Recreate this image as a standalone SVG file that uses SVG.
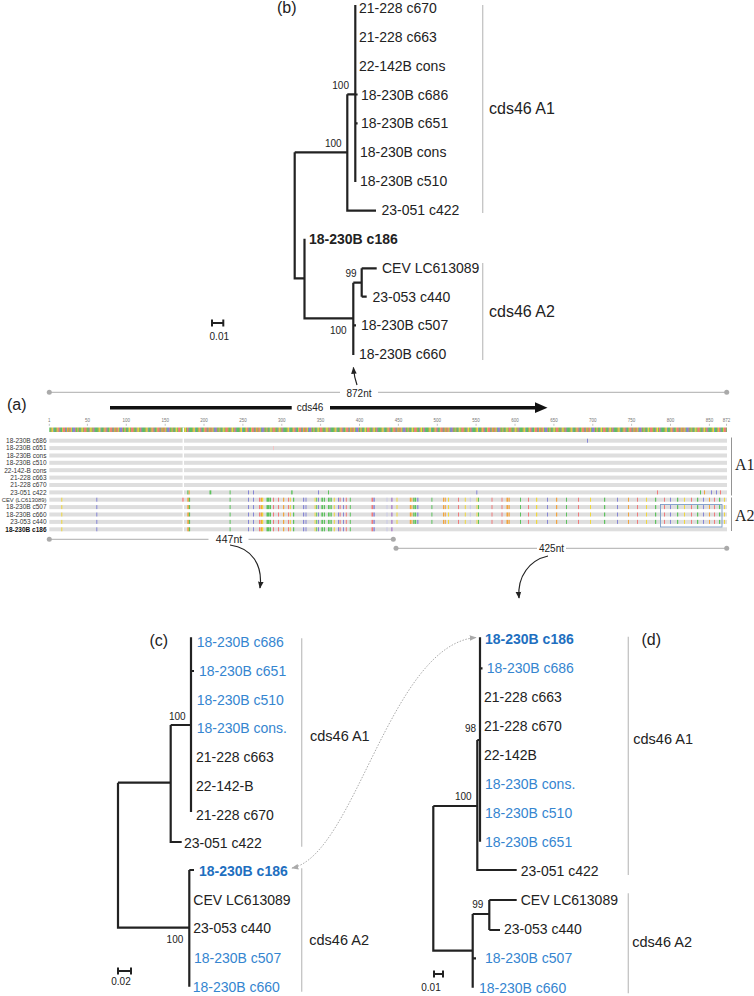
<svg xmlns="http://www.w3.org/2000/svg" width="754" height="996" viewBox="0 0 754 996">
<style>
text{font-family:"Liberation Sans",Arial,sans-serif;fill:#222}
.lbl{font-size:14px}
.blue{fill:#3585d0}
.bb{fill:#1e6fc0;font-weight:bold}
.bold{font-weight:bold}
.boot{font-size:10px}
.clade{font-size:14.5px}
.cladeb{font-size:16px}
.panel{font-size:16px}
.br{stroke:#222;stroke-width:2.2;fill:none}
.sb{stroke:#222;stroke-width:2;fill:none}
.brk{stroke:#c4c4c4;stroke-width:1.3;fill:none}
.dim{stroke:#bdbdbd;stroke-width:1.2;fill:none}
.dot{fill:#aaa}
.rl{font-size:6.5px;fill:#333;text-anchor:end}
.rul{font-size:4.5px;fill:#777;text-anchor:middle}
.bar{fill:#dedede}
.Y{fill:#f0d83a}.B{fill:#8585d6}.O{fill:#f2a43c}.G{fill:#5cc25c}.R{fill:#f07a7a}.L{fill:#c8c8e8}.P{fill:#9a5fc0}
.curve{stroke:#222;stroke-width:1.2;fill:none}
.dash{stroke:#aaa;stroke-width:1;fill:none;stroke-dasharray:1.5 1.5}
</style>
<defs>
<marker id="ah" viewBox="0 0 10 10" refX="9" refY="5" markerWidth="7" markerHeight="7" markerUnits="userSpaceOnUse" orient="auto"><path d="M0 1L10 5L0 9z" fill="#222"/></marker>
<marker id="ag" viewBox="0 0 10 10" refX="9" refY="5" markerWidth="7" markerHeight="7" markerUnits="userSpaceOnUse" orient="auto-start-reverse"><path d="M0 1L10 5L0 9z" fill="#aaa"/></marker>
<pattern id="cons" patternUnits="userSpaceOnUse" x="49.3" y="427.5" width="47.2" height="4.5">
<rect width="47.2" height="4.5" class="G"/>
<rect x="1.6" width="0.8" height="4.5" class="R"/><rect x="2.4" width="1.6" height="4.5" class="Y"/><rect x="4" width="0.8" height="4.5" class="B"/>
<rect x="7.2" width="0.8" height="4.5" class="R"/><rect x="8" width="0.8" height="4.5" class="Y"/><rect x="8.8" width="1.6" height="4.5" class="R"/><rect x="10.4" width="0.8" height="4.5" class="B"/>
<rect x="12.8" width="0.8" height="4.5" class="Y"/><rect x="13.6" width="2.4" height="4.5" class="R"/><rect x="16.8" width="0.8" height="4.5" class="B"/><rect x="17.6" width="1.6" height="4.5" class="O"/>
<rect x="20" width="1.6" height="4.5" class="R"/><rect x="21.6" width="0.8" height="4.5" class="Y"/><rect x="23.2" width="2.4" height="4.5" class="B"/><rect x="25.6" width="0.8" height="4.5" class="R"/>
<rect x="28" width="0.8" height="4.5" class="Y"/><rect x="28.8" width="0.8" height="4.5" class="R"/><rect x="31.2" width="0.8" height="4.5" class="B"/><rect x="32" width="1.6" height="4.5" class="Y"/>
<rect x="34.4" width="2.4" height="4.5" class="R"/><rect x="36.8" width="0.8" height="4.5" class="O"/><rect x="39.2" width="0.8" height="4.5" class="B"/><rect x="40" width="0.8" height="4.5" class="R"/>
<rect x="40.8" width="1.6" height="4.5" class="Y"/><rect x="43.2" width="1.6" height="4.5" class="R"/><rect x="44.8" width="0.8" height="4.5" class="B"/>
</pattern>
<g id="bar"><rect x="49.3" y="-2" width="133.3" height="4" class="bar"/><rect x="184" y="-2" width="543" height="4" class="bar"/></g>
<g id="a2left">
<rect x="61.3" y="-2" width="1" height="4" class="Y"/><rect x="96.3" y="-2" width="1" height="4" class="B"/>
<rect x="187.3" y="-2" width="1.6" height="4" class="O"/><rect x="188.9" y="-2" width="1.2" height="4" class="G"/>
<rect x="229.6" y="-2" width="1" height="4" class="G"/><rect x="248" y="-2" width="1" height="4" class="B"/><rect x="253" y="-2" width="1" height="4" class="B"/>
<rect x="259" y="-2" width="1" height="4" class="R"/><rect x="260.5" y="-2" width="1.5" height="4" class="O"/><rect x="262" y="-2" width="1.2" height="4" class="Y"/>
<rect x="266.5" y="-2" width="1.5" height="4" class="G"/><rect x="268" y="-2" width="1.6" height="4" class="G"/><rect x="270" y="-2" width="1" height="4" class="G"/>
<rect x="273" y="-2" width="1" height="4" class="R"/><rect x="278" y="-2" width="1" height="4" class="R"/><rect x="283" y="-2" width="1.2" height="4" class="O"/>
<rect x="288" y="-2" width="1" height="4" class="R"/><rect x="289.8" y="-2" width="1" height="4" class="Y"/><rect x="293" y="-2" width="1.2" height="4" class="G"/>
<rect x="303" y="-2" width="1.2" height="4" class="B"/><rect x="305.5" y="-2" width="1" height="4" class="B"/>
<rect x="314.6" y="-2" width="1" height="4" class="Y"/><rect x="316.2" y="-2" width="1" height="4" class="G"/><rect x="318" y="-2" width="1" height="4" class="B"/>
<rect x="321.4" y="-2" width="1.6" height="4" class="G"/><rect x="323.8" y="-2" width="1.2" height="4" class="G"/>
<rect x="328" y="-2" width="1.6" height="4" class="G"/><rect x="330.4" y="-2" width="1.4" height="4" class="G"/><rect x="333.8" y="-2" width="1" height="4" class="Y"/>
<rect x="338" y="-2" width="1" height="4" class="B"/><rect x="339.6" y="-2" width="1" height="4" class="R"/><rect x="343" y="-2" width="1" height="4" class="B"/>
<rect x="345.8" y="-2" width="1" height="4" class="R"/><rect x="349.8" y="-2" width="1" height="4" class="G"/>
<rect x="371.5" y="-2" width="1.6" height="4" class="R"/><rect x="373.4" y="-2" width="1.4" height="4" class="B"/>
<rect x="386.5" y="-2" width="1" height="4" class="L"/><rect x="391.4" y="-2" width="1" height="4" class="P"/>
</g>
<g id="a2right">
<rect x="396.5" y="-2" width="1" height="4" class="Y"/><rect x="409.8" y="-2" width="1.2" height="4" class="O"/><rect x="411.4" y="-2" width="1" height="4" class="O"/>
<rect x="413.2" y="-2" width="1.4" height="4" class="G"/><rect x="415" y="-2" width="1.2" height="4" class="G"/><rect x="417.2" y="-2" width="1.2" height="4" class="B"/>
<rect x="431.4" y="-2" width="1" height="4" class="G"/><rect x="443" y="-2" width="1.2" height="4" class="O"/><rect x="444.8" y="-2" width="1" height="4" class="O"/>
<rect x="448" y="-2" width="1" height="4" class="Y"/><rect x="458" y="-2" width="1" height="4" class="R"/><rect x="464.8" y="-2" width="1" height="4" class="Y"/>
<rect x="469.8" y="-2" width="1" height="4" class="L"/><rect x="476.5" y="-2" width="1" height="4" class="Y"/><rect x="478" y="-2" width="1" height="4" class="G"/>
<rect x="491.5" y="-2" width="1" height="4" class="R"/><rect x="501.5" y="-2" width="1" height="4" class="R"/><rect x="506.5" y="-2" width="1.5" height="4" class="O"/><rect x="508.5" y="-2" width="1.2" height="4" class="O"/>
<rect x="520" y="-2" width="1" height="4" class="G"/><rect x="528" y="-2" width="1" height="4" class="R"/><rect x="536" y="-2" width="1.2" height="4" class="Y"/>
<rect x="547" y="-2" width="1" height="4" class="B"/><rect x="556" y="-2" width="1.2" height="4" class="O"/><rect x="566" y="-2" width="1" height="4" class="G"/>
<rect x="578" y="-2" width="1" height="4" class="R"/><rect x="590" y="-2" width="1" height="4" class="Y"/><rect x="604" y="-2" width="1.2" height="4" class="G"/>
<rect x="617" y="-2" width="1" height="4" class="B"/><rect x="628" y="-2" width="1" height="4" class="O"/><rect x="637" y="-2" width="1" height="4" class="R"/>
<rect x="646" y="-2" width="1" height="4" class="Y"/><rect x="655" y="-2" width="1.2" height="4" class="G"/><rect x="664" y="-2" width="1" height="4" class="R"/>
<rect x="670" y="-2" width="1" height="4" class="B"/><rect x="677" y="-2" width="1.2" height="4" class="G"/><rect x="684" y="-2" width="1" height="4" class="Y"/>
<rect x="691" y="-2" width="1" height="4" class="R"/><rect x="697" y="-2" width="1.2" height="4" class="G"/><rect x="703" y="-2" width="1" height="4" class="B"/>
<rect x="709" y="-2" width="1" height="4" class="O"/><rect x="714" y="-2" width="1" height="4" class="R"/><rect x="719" y="-2" width="1.2" height="4" class="G"/><rect x="724" y="-2" width="1" height="4" class="Y"/>
</g>
</defs>
<rect width="754" height="996" fill="#fff"/>

<!-- ===== Panel (b) ===== -->
<g id="panel-b">
<text class="panel" x="277" y="13">(b)</text>
<g id="b-connectors">
<path class="br" d="M355.3 5V182M355.3 94.5H357.6M355.3 123.4H357.6"/>
<path class="br" d="M347.3 94.3H355.3M347.3 94.3V210.7H376"/>
<path class="br" d="M294.7 152.3H347.3M294.7 152.3V278.3H304.5"/>
<path class="br" d="M304.5 238.8V318.3H353.3"/>
<path class="br" d="M353.3 282.7V355M353.3 282.7H361.7M361.7 268.3V296.7M361.7 268.3H376.7M361.7 296.7H366.7M353.3 325.4H356"/>
</g>
<g id="b-boot">
<text class="boot" x="349" y="89" text-anchor="end">100</text>
<text class="boot" x="341.7" y="147" text-anchor="end">100</text>
<text class="boot" x="356.7" y="277" text-anchor="end">99</text>
<text class="boot" x="346.7" y="334" text-anchor="end">100</text>
</g>
<g id="b-l0"><text class="lbl" x="359" y="13">21-228 c670</text></g>
<g id="b-l1"><text class="lbl" x="359" y="42">21-228 c663</text></g>
<g id="b-l2"><text class="lbl" x="359" y="70.7">22-142B cons</text></g>
<g id="b-l3"><text class="lbl" x="361" y="99.5">18-230B c686</text></g>
<g id="b-l4"><text class="lbl" x="361" y="128.4">18-230B c651</text></g>
<g id="b-l5"><text class="lbl" x="360" y="157.2">18-230B cons</text></g>
<g id="b-l6"><text class="lbl" x="360" y="186">18-230B c510</text></g>
<g id="b-l7"><text class="lbl" x="381.5" y="215">23-051 c422</text></g>
<g id="b-l8"><text class="lbl bold" x="309" y="243.8">18-230B c186</text></g>
<g id="b-l9"><text class="lbl" x="382" y="272.6">CEV LC613089</text></g>
<g id="b-l10"><text class="lbl" x="372.5" y="301.5">23-053 c440</text></g>
<g id="b-l11"><text class="lbl" x="361" y="330.3">18-230B c507</text></g>
<g id="b-l12"><text class="lbl" x="359" y="359.2">18-230B c660</text></g>
<g id="b-scale">
<path class="sb" d="M212 323H223.3M212 319.5V326.5M223.3 319.5V326.5"/>
<text class="boot" x="219.3" y="339.5" text-anchor="middle">0.01</text>
</g>
<g id="b-clades">
<path class="brk" d="M482.7 5V213M482.7 263V360"/>
<text class="cladeb" x="489" y="113.5">cds46 A1</text>
<text class="cladeb" x="489" y="317">cds46 A2</text>
</g>
<path class="curve" d="M357 385Q354.2 377 353.4 367.5" marker-end="url(#ah)"/>
</g>

<!-- ===== Panel (a) ===== -->
<g id="panel-a">
<text class="panel" x="7" y="410">(a)</text>
<g id="dim-872">
<path class="dim" d="M49.3 392.3H340M378 392.3H726.7"/>
<circle class="dot" cx="49.3" cy="392.3" r="2.5"/><circle class="dot" cx="726.7" cy="392.3" r="2.5"/>
<text x="359" y="397" text-anchor="middle" style="font-size:10px">872nt</text>
</g>
<g id="cds46-arrow">
<path d="M110 407.7H291.7M330 407.7H536" stroke="#111" stroke-width="3.6" fill="none"/>
<path d="M535 402.3L547.5 407.7L535 413z" fill="#111"/>
<text x="310" y="411" text-anchor="middle" style="font-size:10px">cds46</text>
</g>
<g id="ruler">
<text class="rul" x="49.3" y="422">1</text><text class="rul" x="87.4" y="422">50</text><text class="rul" x="126.3" y="422">100</text>
<text class="rul" x="165.2" y="422">150</text><text class="rul" x="204" y="422">200</text><text class="rul" x="242.9" y="422">250</text>
<text class="rul" x="281.8" y="422">300</text><text class="rul" x="320.6" y="422">350</text><text class="rul" x="359.5" y="422">400</text>
<text class="rul" x="398.4" y="422">450</text><text class="rul" x="437.3" y="422">500</text><text class="rul" x="476.1" y="422">550</text>
<text class="rul" x="515" y="422">600</text><text class="rul" x="553.9" y="422">650</text><text class="rul" x="592.8" y="422">700</text>
<text class="rul" x="631.6" y="422">750</text><text class="rul" x="670.5" y="422">800</text><text class="rul" x="709.4" y="422">850</text>
<text class="rul" x="726.5" y="422">872</text>
<path stroke="#999" stroke-width="0.6" d="M49.3 423.8v2M87.4 423.8v2M126.3 423.8v2M165.2 423.8v2M204 423.8v2M242.9 423.8v2M281.8 423.8v2M320.6 423.8v2M359.5 423.8v2M398.4 423.8v2M437.3 423.8v2M476.1 423.8v2M515 423.8v2M553.9 423.8v2M592.8 423.8v2M631.6 423.8v2M670.5 423.8v2M709.4 423.8v2M726.5 423.8v2"/>
<rect x="49.3" y="427.5" width="677.7" height="4.5" fill="url(#cons)"/>
<rect x="182.6" y="427.5" width="1.4" height="4.5" fill="#fff"/>
</g>
<g id="rows">
<g id="row1"><text class="rl" x="46.5" y="443">18-230B c686</text><use href="#bar" y="440.7"/><rect x="587" y="438.7" width="1" height="4" class="B"/></g>
<g id="row2"><text class="rl" x="46.5" y="450.4">18-230B c651</text><use href="#bar" y="448.1"/><rect x="273" y="446.1" width="1" height="4" fill="#f5c4c4"/></g>
<g id="row3"><text class="rl" x="46.5" y="457.8">18-230B cons</text><use href="#bar" y="455.5"/></g>
<g id="row4"><text class="rl" x="46.5" y="465.1">18-230B c510</text><use href="#bar" y="462.8"/></g>
<g id="row5"><text class="rl" x="46.5" y="472.5">22-142-B cons</text><use href="#bar" y="470.2"/></g>
<g id="row6"><text class="rl" x="46.5" y="479.9">21-228 c663</text><use href="#bar" y="477.6"/></g>
<g id="row7"><text class="rl" x="46.5" y="487.3">21-228 c670</text><use href="#bar" y="485"/></g>
<g id="row8"><text class="rl" x="46.5" y="494.7">23-051 c422</text><use href="#bar" y="492.4"/>
<g transform="translate(0 492.4)">
<rect x="187.3" y="-2" width="1.2" height="4" class="G"/><rect x="188.7" y="-2" width="1" height="4" class="O"/><rect x="209.5" y="-2" width="1.8" height="4" class="G"/>
<rect x="229.6" y="-2" width="1" height="4" class="G"/><rect x="248" y="-2" width="1" height="4" class="B"/><rect x="253" y="-2" width="1" height="4" class="B"/>
<rect x="291.2" y="-2" width="1.4" height="4" class="G"/><rect x="318" y="-2" width="1" height="4" class="B"/><rect x="328" y="-2" width="1" height="4" class="G"/>
<rect x="476.3" y="-2" width="1" height="4" class="B"/><rect x="657" y="-2" width="1" height="4" class="R"/><rect x="700" y="-2" width="1" height="4" class="G"/>
<rect x="704" y="-2" width="1" height="4" class="O"/><rect x="711" y="-2" width="1" height="4" class="B"/><rect x="716" y="-2" width="1" height="4" class="B"/><rect x="720" y="-2" width="1" height="4" class="R"/>
</g></g>
<g id="row9"><text class="rl" x="46.5" y="502" style="font-size:5.9px">CEV (LC613089)</text><use href="#bar" y="499.7"/><use href="#a2left" y="499.7"/><use href="#a2right" y="499.7"/><rect x="182.3" y="497.7" width="1.4" height="4" class="R"/></g>
<g id="row10"><text class="rl" x="46.5" y="509.4">18-230B c507</text><use href="#bar" y="507.1"/><use href="#a2left" y="507.1"/><use href="#a2right" y="507.1"/></g>
<g id="row11"><text class="rl" x="46.5" y="516.8">18-230B c660</text><use href="#bar" y="514.5"/><use href="#a2left" y="514.5"/><use href="#a2right" y="514.5"/></g>
<g id="row12"><text class="rl" x="46.5" y="524.2">23-053 c440</text><use href="#bar" y="521.9"/><use href="#a2left" y="521.9"/><use href="#a2right" y="521.9"/></g>
<g id="row13"><text class="rl" x="46.5" y="531.6" style="font-weight:bold;fill:#111">18-230B c186</text><use href="#bar" y="529.3"/><use href="#a2left" y="529.3"/></g>
</g>
<rect x="660.5" y="504.5" width="61.5" height="22.5" fill="none" stroke="#7a9cc8" stroke-width="0.9"/>
<g id="a-brackets">
<path stroke="#888" stroke-width="0.9" d="M731.5 437.5V495.5M731.5 497.5V531"/>
<text x="735" y="469.5" style="font-family:'Liberation Serif','Times New Roman',serif;font-size:16px">A1</text>
<text x="735" y="521" style="font-family:'Liberation Serif','Times New Roman',serif;font-size:16px">A2</text>
</g>
<g id="dim-447">
<path class="dim" d="M49.3 539.3H208.5M248.5 539.3H393.3"/>
<circle class="dot" cx="49.3" cy="539.3" r="2.5"/><circle class="dot" cx="393.3" cy="539.3" r="2.5"/>
<text x="229" y="543" text-anchor="middle" style="font-size:10.5px">447nt</text>
</g>
<g id="dim-425">
<path class="dim" d="M396 548.3H537M566 548.3H726.7"/>
<circle class="dot" cx="396" cy="548.3" r="2.5"/><circle class="dot" cx="726.7" cy="548.3" r="2.5"/>
<text x="551.5" y="551.8" text-anchor="middle" style="font-size:10px">425nt</text>
</g>
<path class="curve" d="M230 545C252 548 263 565 260 588" marker-end="url(#ah)"/>
<path class="curve" d="M548 556C530 560 517 576 519 598" marker-end="url(#ah)"/>
</g>

<!-- ===== Panel (c) ===== -->
<g id="panel-c">
<text class="panel" x="149.5" y="646">(c)</text>
<g id="c-connectors">
<path class="br" d="M191 637.3V812M191 671H194"/>
<path class="br" d="M170.7 725H191M170.7 725V842H181.7"/>
<path class="br" d="M118 782.7H170.7M118 782.7V927.7H189.3"/>
<path class="br" d="M189.3 870V986.7M189.3 870H194"/>
</g>
<g id="c-boot">
<text class="boot" x="185.7" y="720" text-anchor="end">100</text>
<text class="boot" x="183.3" y="943" text-anchor="end">100</text>
</g>
<g id="c-l0"><text class="lbl blue" x="196.7" y="647.3">18-230B c686</text></g>
<g id="c-l1"><text class="lbl blue" x="199" y="676">18-230B c651</text></g>
<g id="c-l2"><text class="lbl blue" x="196.7" y="704.7">18-230B c510</text></g>
<g id="c-l3"><text class="lbl blue" x="196.7" y="733.4">18-230B cons.</text></g>
<g id="c-l4"><text class="lbl" x="196" y="762.1">21-228 c663</text></g>
<g id="c-l5"><text class="lbl" x="196" y="790.8">22-142-B</text></g>
<g id="c-l6"><text class="lbl" x="196" y="819.5">21-228 c670</text></g>
<g id="c-l7"><text class="lbl" x="184" y="847.5">23-051 c422</text></g>
<g id="c-l8"><text class="lbl bb" x="199" y="875.5">18-230B c186</text></g>
<g id="c-l9"><text class="lbl" x="193.3" y="905">CEV LC613089</text></g>
<g id="c-l10"><text class="lbl" x="193.3" y="933">23-053 c440</text></g>
<g id="c-l11"><text class="lbl blue" x="194" y="962.5">18-230B c507</text></g>
<g id="c-l12"><text class="lbl blue" x="192.7" y="991.7">18-230B c660</text></g>
<g id="c-scale">
<path class="sb" d="M118 971H131M118 967.5V974.5M131 967.5V974.5"/>
<text class="boot" x="121" y="984.5" text-anchor="middle">0.02</text>
</g>
<g id="c-clades">
<path class="brk" d="M301.7 638.3V846.7M301.7 868.3V991.7"/>
<text class="clade" x="310" y="741">cds46 A1</text>
<text class="clade" x="309.3" y="945">cds46 A2</text>
</g>
</g>

<!-- ===== Panel (d) ===== -->
<g id="panel-d">
<text class="panel" x="641.5" y="645">(d)</text>
<g id="d-connectors">
<path class="br" d="M480 637.3V841.7M480 668.3H482.5"/>
<path class="br" d="M477.3 740V870H516.7M477.3 740H480"/>
<path class="br" d="M433.3 806H477.3M433.3 806V950.7H472.7"/>
<path class="br" d="M472.7 914V987.7M472.7 914H489.3M489.3 900V930M489.3 900H516.7M489.3 930H500M472.7 958.3H476"/>
</g>
<g id="d-boot">
<text class="boot" x="476" y="731.5" text-anchor="end">98</text>
<text class="boot" x="471.7" y="800" text-anchor="end">100</text>
<text class="boot" x="483.3" y="908.3" text-anchor="end">99</text>
</g>
<g id="d-l0"><text class="lbl bb" x="485" y="644.3">18-230B c186</text></g>
<g id="d-l1"><text class="lbl blue" x="486.7" y="673.3">18-230B c686</text></g>
<g id="d-l2"><text class="lbl" x="484" y="702">21-228 c663</text></g>
<g id="d-l3"><text class="lbl" x="484" y="731">21-228 c670</text></g>
<g id="d-l4"><text class="lbl" x="484" y="760">22-142B</text></g>
<g id="d-l5"><text class="lbl blue" x="485" y="789.3">18-230B cons.</text></g>
<g id="d-l6"><text class="lbl blue" x="485" y="818">18-230B c510</text></g>
<g id="d-l7"><text class="lbl blue" x="485" y="847">18-230B c651</text></g>
<g id="d-l8"><text class="lbl" x="520.7" y="876">23-051 c422</text></g>
<g id="d-l9"><text class="lbl" x="520.7" y="905">CEV LC613089</text></g>
<g id="d-l10"><text class="lbl" x="504" y="934.3">23-053 c440</text></g>
<g id="d-l11"><text class="lbl blue" x="485" y="963.3">18-230B c507</text></g>
<g id="d-l12"><text class="lbl blue" x="479" y="992.5">18-230B c660</text></g>
<g id="d-scale">
<path class="sb" d="M434 974H443M434 970.5V977.5M443 970.5V977.5"/>
<text class="boot" x="431" y="991" text-anchor="middle">0.01</text>
</g>
<g id="d-clades">
<path class="brk" d="M628.3 636.7V875M628.3 893.3V993.3"/>
<text class="clade" x="633.3" y="744">cds46 A1</text>
<text class="clade" x="632.3" y="947">cds46 A2</text>
</g>
</g>

<g id="link-c186">
<path class="dash" d="M292 868C355 855 390 645 476 637.5" marker-start="url(#ag)" marker-end="url(#ag)"/>
</g>
</svg>
